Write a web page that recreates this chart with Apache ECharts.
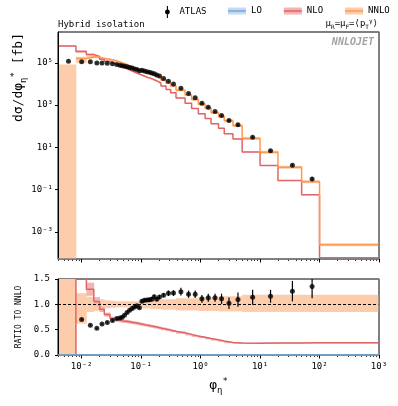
<!DOCTYPE html>
<html>
<head>
<meta charset="utf-8">
<script src="https://cdn.jsdelivr.net/npm/echarts@6.0.0/dist/echarts.min.js"></script>
<style>
  html, body { margin: 0; padding: 0; background: #fff; }
  #chart { width: 398px; height: 406px; }
</style>
</head>
<body>
<div id="chart"></div>
<script>
// phi*_eta bin edges
var edges = [0.004, 0.008, 0.012, 0.016, 0.020, 0.024, 0.030, 0.036, 0.042, 0.046,
  0.050, 0.055, 0.061, 0.067, 0.074, 0.081, 0.089, 0.098, 0.108, 0.119,
  0.131, 0.144, 0.158, 0.174, 0.192, 0.215, 0.262, 0.314, 0.386, 0.548,
  0.706, 0.916, 1.19, 1.5, 2.0, 2.5, 3.5, 5, 10, 20, 50, 100, 1000];

// ATLAS measurement [fb] and relative error
var atlas = [1.2e5, 1.12e5, 1.12e5, 1.0e5, 1.0e5, 9.5e4, 9.0e4, 8.4e4, 7.8e4, 7.4e4,
  7.0e4, 6.55e4, 6.1e4, 5.7e4, 5.2e4, 4.85e4, 4.3e4, 4.45e4, 4.1e4, 3.8e4,
  3.6e4, 3.3e4, 3.1e4, 2.7e4, 2.4e4, 1.83e4, 1.34e4, 9.9e3, 6.25e3, 3.6e3,
  2.23e3, 1.23e3, 800, 494, 324, 186, 117, 30.0, 6.84, 1.43, 0.32, null];
var atlasErr = [0.03, 0.03, 0.03, 0.03, 0.03, 0.03, 0.03, 0.03, 0.03, 0.03,
  0.03, 0.03, 0.03, 0.03, 0.03, 0.03, 0.03, 0.03, 0.03, 0.03,
  0.035, 0.035, 0.035, 0.035, 0.035, 0.035, 0.045, 0.045, 0.06, 0.06,
  0.06, 0.07, 0.07, 0.07, 0.09, 0.11, 0.13, 0.13, 0.11, 0.16, 0.17, null];

// NNLO central [fb] (first bin is negative) and scale band as a fraction of it
var nnlo = [-3.0e4, 1.60e5, 1.91e5, 1.90e5, 1.64e5, 1.48e5, 1.32e5, 1.17e5, 1.07e5, 9.9e4,
  8.9e4, 7.8e4, 6.9e4, 6.2e4, 5.5e4, 5.0e4, 4.6e4, 4.2e4, 3.8e4, 3.5e4,
  3.3e4, 3.0e4, 2.7e4, 2.45e4, 2.1e4, 1.55e4, 1.10e4, 8.1e3, 5.0e3, 3.0e3,
  1.86e3, 1.11e3, 708, 437, 292, 182, 107, 26.3, 5.9, 1.135, 0.237, 2.45e-4];
var nnloBandLo = [-2.8, 0.62, 0.85, 0.87, 0.90, 0.92, 0.93, 0.94, 0.94, 0.94,
  0.94, 0.94, 0.94, 0.94, 0.94, 0.94, 0.94, 0.92, 0.92, 0.92,
  0.92, 0.905, 0.905, 0.905, 0.905, 0.895, 0.895, 0.895, 0.88, 0.88,
  0.88, 0.87, 0.87, 0.87, 0.86, 0.86, 0.86, 0.85, 0.85, 0.85, 0.85, 0.85];
var nnloBandHi = [5.0, 1.22, 1.15, 1.12, 1.10, 1.08, 1.07, 1.06, 1.06, 1.06,
  1.06, 1.06, 1.06, 1.06, 1.06, 1.06, 1.06, 1.08, 1.08, 1.08,
  1.08, 1.09, 1.09, 1.09, 1.09, 1.10, 1.10, 1.10, 1.12, 1.12,
  1.12, 1.14, 1.14, 1.14, 1.16, 1.16, 1.16, 1.19, 1.19, 1.19, 1.19, 1.19];

// NLO central [fb] and relative band half-width
var nlo = [6.3e5, 3.5e5, 2.48e5, 2.01e5, 1.48e5, 1.18e5, 9.5e4, 8.07e4, 7.28e4, 6.63e4,
  5.92e4, 5.15e4, 4.49e4, 3.97e4, 3.49e4, 3.13e4, 2.83e4, 2.54e4, 2.26e4, 2.05e4,
  1.90e4, 1.70e4, 1.50e4, 1.34e4, 1.12e4, 7.98e3, 5.45e3, 3.81e3, 2.2e3, 1.22e3,
  698, 389, 230, 131, 80.3, 44.6, 25.1, 6.05, 1.39, 0.267, 0.0569, 5.9e-5];
var nloErr = [0.05, 0.12, 0.10, 0.08, 0.06, 0.05, 0.05, 0.05, 0.05, 0.05,
  0.05, 0.05, 0.05, 0.05, 0.05, 0.05, 0.05, 0.05, 0.05, 0.05,
  0.05, 0.05, 0.05, 0.05, 0.05, 0.05, 0.05, 0.05, 0.05, 0.05,
  0.05, 0.05, 0.05, 0.05, 0.05, 0.05, 0.05, 0.05, 0.05, 0.05, 0.05, 0.05];

// LO vanishes in every bin shown
var lo = [0, 0, 0, 0, 0, 0, 0, 0, 0, 0, 0, 0, 0, 0, 0, 0, 0, 0, 0, 0, 0,
  0, 0, 0, 0, 0, 0, 0, 0, 0, 0, 0, 0, 0, 0, 0, 0, 0, 0, 0, 0, 0];

// tick labels
var xTicks = [1e-2, 1e-1, 1, 10, 100, 1000];
var yTicks = [1e-3, 1e-1, 10, 1e3, 1e5];

var FONT = "'DejaVu Sans Mono', monospace";
var X_MIN = 0.004, X_MAX = 1000;
var Y_MIN = 5.2e-5, Y_MAX = 2.9e6;
var TINY = 1e-30;
var col = {
  lo: '#6fa8dc', loBand: '#c5daf0',
  nlo: '#e06666', nloBand: '#f2b3b3',
  nnlo: '#fd9a52', nnloBand: '#fdcdab'
};

var xMinor = [];
for (var p = -3; p <= 2; p++) {
  for (var k = 2; k <= 9; k++) {
    var v = k * Math.pow(10, p);
    if (v >= X_MIN && v <= X_MAX) xMinor.push(v);
  }
}

var SUP = {'-': '⁻', '0': '⁰', '1': '¹', '2': '²', '3': '³', '4': '⁴',
  '5': '⁵', '6': '⁶', '7': '⁷', '8': '⁸', '9': '⁹'};
function pow10Label(v) {
  var e = String(Math.round(Math.log10(v)));
  return '10' + e.split('').map(function (c) { return SUP[c]; }).join('');
}

var centers = edges.slice(0, -1).map(function (e, i) { return (e + edges[i + 1]) / 2; });

function steps(vals, positive) {
  var pts = [];
  vals.forEach(function (v, i) {
    if (v == null || (positive && !(v > 0))) { pts.push([edges[i], '-']); return; }
    pts.push([edges[i], v], [edges[i + 1], v]);
  });
  return pts;
}

function bandRows(central, lowRel, highRel, positive) {
  var rows = [];
  central.forEach(function (c, i) {
    if (c == null) return;
    var a = c * lowRel[i], b = c * highRel[i];
    var l = Math.min(a, b), h = Math.max(a, b);
    if (positive) {
      if (!(h > 0)) return;
      l = Math.max(l, TINY);
    }
    rows.push([edges[i], edges[i + 1], l, h]);
  });
  return rows;
}

function points(vals) {
  var out = [];
  vals.forEach(function (v, i) { if (v != null) out.push([centers[i], v]); });
  return out;
}

function errRows(vals, rel) {
  var out = [];
  vals.forEach(function (v, i) {
    if (v != null) out.push([centers[i], v * (1 - rel[i]), v * (1 + rel[i])]);
  });
  return out;
}

var nloLow = nloErr.map(function (e) { return 1 - e; });
var nloHigh = nloErr.map(function (e) { return 1 + e; });
var ones = nnlo.map(function () { return 1; });
var nloRatio = nlo.map(function (v, i) { return v / nnlo[i]; });
var atlasRatio = atlas.map(function (v, i) { return v == null ? null : v / nnlo[i]; });

function renderBand(params, api) {
  var a = api.coord([api.value(0), api.value(3)]);
  var b = api.coord([api.value(1), api.value(2)]);
  var cs = params.coordSys;
  var r = echarts.graphic.clipRectByRect(
    {x: a[0], y: a[1], width: b[0] - a[0] + 0.4, height: b[1] - a[1]},
    {x: cs.x, y: cs.y, width: cs.width, height: cs.height});
  return r ? {type: 'rect', shape: r, style: {fill: api.visual('color')}} : null;
}

function renderErr(params, api) {
  var t = api.coord([api.value(0), api.value(2)]);
  var b = api.coord([api.value(0), api.value(1)]);
  var cs = params.coordSys;
  var y0 = Math.max(t[1], cs.y), y1 = Math.min(b[1], cs.y + cs.height);
  if (!(y1 > y0)) return null;
  return {type: 'line', shape: {x1: t[0], y1: y0, x2: t[0], y2: y1},
    style: {stroke: '#000', lineWidth: 1.2}};
}

var richSS = {
  sub: {fontFamily: FONT, fontSize: 9, lineHeight: 10, verticalAlign: 'bottom'},
  sup: {fontFamily: FONT, fontSize: 9, lineHeight: 10, verticalAlign: 'top'},
  s: {fontFamily: FONT, fontSize: 6, lineHeight: 7, verticalAlign: 'bottom'},
  u: {fontFamily: FONT, fontSize: 6, lineHeight: 7, verticalAlign: 'top'}
};

function logX(grid, major) {
  return [{
    type: 'log', gridIndex: grid, position: 'bottom', min: X_MIN, max: X_MAX, z: 5,
    axisLine: {lineStyle: {color: '#808080', width: 1.5}},
    axisTick: {customValues: xTicks, length: 3.5, lineStyle: {color: '#000', width: 1}},
    axisLabel: major,
    splitLine: {show: false}
  }, {
    type: 'log', gridIndex: grid, position: 'bottom', min: X_MIN, max: X_MAX,
    axisLine: {show: false},
    axisTick: {customValues: xMinor, length: 2, lineStyle: {color: '#000', width: 0.8}},
    axisLabel: {show: false},
    splitLine: {show: false}
  }];
}

var xAxes = logX(0, {show: false}).concat(logX(1, {
  customValues: xTicks, formatter: pow10Label, margin: 7,
  fontFamily: FONT, fontSize: 9, color: '#000'
}));
xAxes[2].name = 'φ{sub|η}{sup|*}';
xAxes[2].nameLocation = 'middle';
xAxes[2].nameGap = 22;
xAxes[2].nameTextStyle = {fontFamily: FONT, fontSize: 13, color: '#000', lineHeight: 18, rich: richSS};

var chart = echarts.init(document.getElementById('chart'), null, {renderer: 'canvas'});
chart.setOption({
  animation: false,
  backgroundColor: '#fff',
  textStyle: {fontFamily: FONT},
  title: [
    {text: 'Hybrid isolation', left: 58, top: 20, padding: 0,
      textStyle: {fontFamily: FONT, fontSize: 9, fontWeight: 'normal', color: '#000'}},
    {text: 'μ{s|R}=μ{s|F}=⟨p{s|T}{u|γ}⟩', right: 20, top: 18, padding: 0,
      textStyle: {fontFamily: FONT, fontSize: 9, fontWeight: 'normal', color: '#000', lineHeight: 12, rich: richSS}},
    {text: 'NNLOJET', right: 24, top: 37, padding: 0,
      textStyle: {fontFamily: FONT, fontSize: 10, fontStyle: 'italic', fontWeight: 'bold', color: '#a3a3a3'}}
  ],
  legend: [
    {left: 165, top: 6, padding: 0, itemWidth: 14, itemHeight: 12, selectedMode: false,
      textStyle: {fontFamily: FONT, fontSize: 9, color: '#000'},
      data: [{name: 'ATLAS', icon: 'path://M4.1,0H5.9V20H4.1Z M1,10A4,4 0 1 1 9,10A4,4 0 1 1 1,10Z',
        itemStyle: {color: '#000', borderWidth: 0}}]},
    {left: 228, top: 6.5, padding: 0, itemWidth: 18, itemHeight: 7, itemGap: 22, selectedMode: false,
      textStyle: {fontFamily: FONT, fontSize: 9, color: '#000'},
      data: [
        {name: 'LO', icon: 'rect', itemStyle: {color: col.loBand, borderWidth: 0}},
        {name: 'NLO', icon: 'rect', itemStyle: {color: col.nloBand, borderWidth: 0}},
        {name: 'NNLO', icon: 'rect', itemStyle: {color: col.nnloBand, borderWidth: 0}}
      ]},
    {left: 228, top: 6.5, padding: 0, itemWidth: 18, itemHeight: 1.5, itemGap: 22, selectedMode: false,
      textStyle: {fontFamily: FONT, fontSize: 9, color: 'rgba(0,0,0,0)'},
      data: [
        {name: 'LO', icon: 'rect', itemStyle: {color: col.lo, borderWidth: 0}},
        {name: 'NLO', icon: 'rect', itemStyle: {color: col.nlo, borderWidth: 0}},
        {name: 'NNLO', icon: 'rect', itemStyle: {color: col.nnlo, borderWidth: 0}}
      ]}
  ],
  graphic: [{
    type: 'text', x: 19, y: 33, rotation: Math.PI / 2,
    style: {text: 'dσ/dφ{sub|η}{sup|*} [fb]', fontFamily: FONT, fontSize: 13, lineHeight: 18,
      fill: '#000', align: 'right', verticalAlign: 'middle', rich: richSS}
  }],
  grid: [
    {left: 58, right: 19, top: 32, height: 227, show: true, borderColor: '#000', borderWidth: 1,
      containLabel: false, outerBoundsMode: 'none'},
    {left: 58, right: 19, top: 279, height: 76, show: true, borderColor: '#000', borderWidth: 1,
      containLabel: false, outerBoundsMode: 'none'}
  ],
  xAxis: xAxes,
  yAxis: [
    {type: 'log', gridIndex: 0, position: 'left', min: Y_MIN, max: Y_MAX, z: 5,
      axisLine: {lineStyle: {color: '#000', width: 1}},
      axisTick: {customValues: yTicks, length: 3, lineStyle: {color: '#000'}},
      axisLabel: {customValues: yTicks, formatter: pow10Label, margin: 5,
        fontFamily: FONT, fontSize: 9, color: '#000'},
      splitLine: {show: false}},
    {type: 'log', gridIndex: 0, position: 'right', min: Y_MIN, max: Y_MAX, z: 5,
      axisLine: {lineStyle: {color: '#808080', width: 1.5}},
      axisTick: {show: false}, axisLabel: {show: false}, splitLine: {show: false}},
    {type: 'value', gridIndex: 1, position: 'left', min: 0, max: 1.5, interval: 0.5, z: 5,
      axisLine: {lineStyle: {color: '#000', width: 1}},
      axisTick: {length: 3, lineStyle: {color: '#000'}},
      axisLabel: {formatter: function (v) { return v.toFixed(1); }, margin: 8,
        fontFamily: FONT, fontSize: 9, color: '#000'},
      splitLine: {show: false},
      name: 'RATIO TO NNLO', nameLocation: 'middle', nameRotate: 90, nameGap: 33,
      nameTextStyle: {fontFamily: FONT, fontSize: 8, color: '#000'}},
    {type: 'value', gridIndex: 1, position: 'right', min: 0, max: 1.5, z: 5,
      axisLine: {lineStyle: {color: '#808080', width: 1.5}},
      axisTick: {show: false}, axisLabel: {show: false}, splitLine: {show: false}}
  ],
  series: [
    // main panel
    {type: 'custom', name: 'NNLO', xAxisIndex: 0, yAxisIndex: 0, z: 1, silent: true,
      renderItem: renderBand, encode: {x: [0, 1], y: [2, 3]},
      itemStyle: {color: col.nnloBand}, data: bandRows(nnlo, nnloBandLo, nnloBandHi, true)},
    {type: 'custom', name: 'NLO', xAxisIndex: 0, yAxisIndex: 0, z: 1, silent: true,
      renderItem: renderBand, encode: {x: [0, 1], y: [2, 3]},
      itemStyle: {color: col.nloBand}, data: bandRows(nlo, nloLow, nloHigh, true)},
    {type: 'line', name: 'NLO', xAxisIndex: 0, yAxisIndex: 0, z: 3, symbol: 'none',
      lineStyle: {color: col.nlo, width: 1.5}, itemStyle: {color: col.nlo},
      data: steps(nlo, true)},
    {type: 'line', name: 'NNLO', xAxisIndex: 0, yAxisIndex: 0, z: 3, symbol: 'none',
      lineStyle: {color: col.nnlo, width: 1.5}, itemStyle: {color: col.nnlo},
      data: steps(nnlo, true)},
    {type: 'custom', name: 'ATLAS', xAxisIndex: 0, yAxisIndex: 0, z: 4, silent: true,
      renderItem: renderErr, encode: {x: 0, y: [1, 2]},
      itemStyle: {color: '#000'}, data: errRows(atlas, atlasErr)},
    {type: 'scatter', name: 'ATLAS', xAxisIndex: 0, yAxisIndex: 0, z: 5,
      symbolSize: 5, itemStyle: {color: '#000'}, data: points(atlas)},

    // ratio panel
    {type: 'custom', name: 'NNLO', xAxisIndex: 2, yAxisIndex: 2, z: 1, silent: true,
      renderItem: renderBand, encode: {x: [0, 1], y: [2, 3]},
      itemStyle: {color: col.nnloBand}, data: bandRows(ones, nnloBandLo, nnloBandHi, false)},
    {type: 'custom', name: 'NLO', xAxisIndex: 2, yAxisIndex: 2, z: 1, silent: true,
      renderItem: renderBand, encode: {x: [0, 1], y: [2, 3]},
      itemStyle: {color: col.nloBand}, data: bandRows(nloRatio, nloLow, nloHigh, false)},
    {type: 'line', name: 'NLO', xAxisIndex: 2, yAxisIndex: 2, z: 3, symbol: 'none',
      lineStyle: {color: col.nlo, width: 1.5}, itemStyle: {color: col.nlo},
      data: steps(nloRatio, false)},
    {type: 'line', name: 'LO', xAxisIndex: 2, yAxisIndex: 2, z: 6, symbol: 'none',
      lineStyle: {color: col.lo, width: 1.5}, itemStyle: {color: col.lo},
      data: steps(lo, false)},
    {type: 'custom', name: 'ATLAS', xAxisIndex: 2, yAxisIndex: 2, z: 4, silent: true,
      renderItem: renderErr, encode: {x: 0, y: [1, 2]},
      itemStyle: {color: '#000'}, data: errRows(atlasRatio, atlasErr)},
    {type: 'scatter', name: 'ATLAS', xAxisIndex: 2, yAxisIndex: 2, z: 5,
      symbolSize: 5, itemStyle: {color: '#000'}, data: points(atlasRatio),
      markLine: {silent: true, symbol: 'none', label: {show: false},
        lineStyle: {color: '#000', type: [3, 2], width: 1}, data: [{yAxis: 1}]}}
  ]
});
</script>
</body>
</html>
